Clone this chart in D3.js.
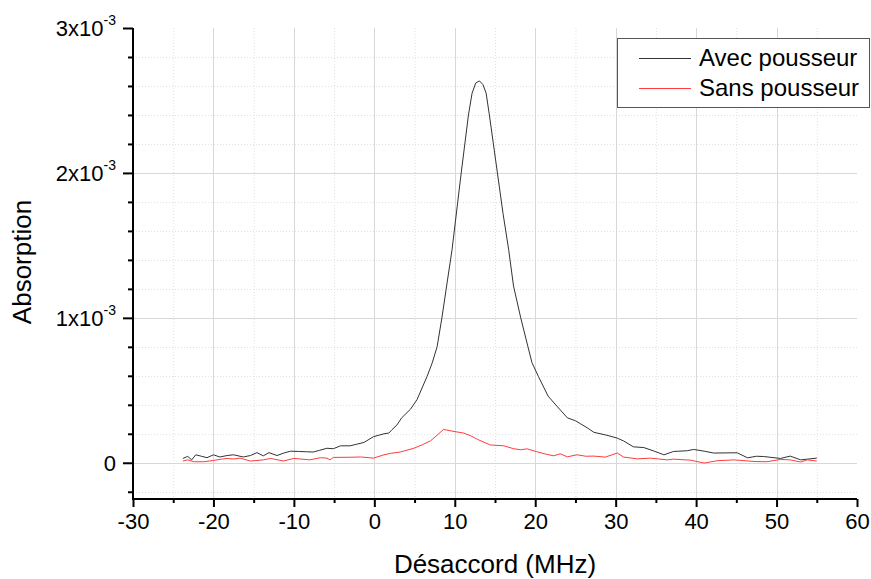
<!DOCTYPE html>
<html><head><meta charset="utf-8">
<script src="https://cdn.jsdelivr.net/npm/d3@7"></script>
<style>body{margin:0;background:#fff}text{font-family:"Liberation Sans",Arial,sans-serif}</style>
</head><body>
<svg id="c" width="871" height="579"></svg>
<script>
// Data (absorption in units of 1e-3)
const avecX = [-23.8,-23.2,-22.7,-22.2,-21.5,-20.8,-20.0,-19.2,-18.3,-17.5,-16.3,-15.4,-14.6,-13.8,-13.1,-12.1,-11.2,-10.4,-9.4,-8.4,-7.6,-6.8,-5.9,-5.1,-4.2,-3.0,-2.2,-1.3,-0.1,1.2,1.8,2.2,2.8,3.4,4.5,5.3,6.55,7.2,7.8,8.4,9.04,9.66,10.8,11.7,12.15,12.6,13.06,13.5,13.9,14.3,15.3,16.0,16.7,17.3,18.2,19.1,19.6,20.4,21.6,22.7,24.0,25.0,25.6,26.5,27.3,28.9,30.2,31.0,32.2,33.5,34.8,36.0,37.2,38.9,39.7,41.0,42.2,45.1,46.4,47.5,48.4,50.5,51.7,53.0,55.0];
const avecY = [0.030,0.044,0.020,0.055,0.045,0.035,0.055,0.040,0.050,0.055,0.040,0.050,0.070,0.048,0.070,0.050,0.068,0.080,0.078,0.076,0.074,0.086,0.100,0.097,0.117,0.117,0.128,0.140,0.180,0.200,0.205,0.228,0.26,0.310,0.370,0.435,0.595,0.69,0.80,1.00,1.24,1.47,2.00,2.40,2.55,2.62,2.635,2.61,2.55,2.40,2.00,1.72,1.47,1.22,1.00,0.80,0.69,0.595,0.46,0.39,0.31,0.29,0.27,0.24,0.21,0.19,0.17,0.15,0.11,0.105,0.08,0.055,0.078,0.083,0.092,0.08,0.067,0.069,0.034,0.045,0.043,0.030,0.046,0.020,0.032];
const sansX = [-23.8,-23.2,-22.4,-21.2,-20.0,-19.0,-18.3,-17.5,-16.7,-15.4,-13.8,-12.9,-11.3,-10.0,-8.0,-6.7,-5.9,-5.5,-5.1,-3.0,-1.7,-0.1,1.2,2.0,3.2,4.9,6.0,7.0,7.8,8.6,9.9,11.1,12.0,12.8,14.4,16.1,17.3,18.2,19.0,20.2,21.3,22.3,23.1,24.0,25.2,26.3,27.3,28.7,30.2,31.0,32.7,34.3,36.4,37.2,39.3,41.0,42.6,44.7,47.2,48.8,50.5,51.7,53.0,53.8,55.0];
const sansY = [0.012,0.020,0.007,0.007,0.016,0.025,0.030,0.026,0.032,0.012,0.020,0.030,0.012,0.030,0.020,0.035,0.032,0.020,0.037,0.038,0.040,0.032,0.055,0.065,0.074,0.100,0.125,0.152,0.19,0.230,0.216,0.205,0.186,0.162,0.123,0.117,0.097,0.090,0.096,0.076,0.060,0.048,0.062,0.041,0.055,0.045,0.046,0.039,0.067,0.039,0.027,0.032,0.020,0.025,0.018,-0.002,0.014,0.020,0.009,0.007,0.023,0.020,0.005,0.020,0.012];
const seriesNames = ["Avec pousseur","Sans pousseur"];
const xTicks = [-30,-20,-10,0,10,20,30,40,50,60];
const yTicks = [0,1e-3,2e-3,3e-3];
const yTickLabels = [["0",""],["1x10","-3"],["2x10","-3"],["3x10","-3"]];
const xTitle = "Désaccord (MHz)";
const yTitle = "Absorption";

const svg = d3.select("#c");
const L=133, R=857, T=28, B=499;
const x = d3.scaleLinear().domain([-30,60]).range([L,R]);
const y = d3.scaleLinear().domain([-0.25e-3,3e-3]).range([B,T]);

// grid
const xMinor = d3.range(-25,60,5).filter(v=>v%10!==0);
const yMinor = d3.range(-0.2e-3,3e-3,0.2e-3).map(v=>+v.toFixed(6)).filter(v=>Math.abs(v%1e-3)>1e-6 && Math.abs(v%1e-3-1e-3)>1e-6);
const g = svg.append("g");
g.selectAll(".xm").data(xMinor).join("line").attr("x1",d=>x(d)+0.5).attr("x2",d=>x(d)+0.5).attr("y1",T).attr("y2",B)
 .attr("stroke","#e0e0e0").attr("stroke-dasharray","1,2");
g.selectAll(".ym").data(yMinor).join("line").attr("y1",d=>Math.round(y(d))+0.5).attr("y2",d=>Math.round(y(d))+0.5).attr("x1",L).attr("x2",R)
 .attr("stroke","#e0e0e0").attr("stroke-dasharray","1,2");
g.selectAll(".xM").data(xTicks.slice(1,-1)).join("line").attr("x1",d=>Math.round(x(d))+0.5).attr("x2",d=>Math.round(x(d))+0.5).attr("y1",T).attr("y2",B)
 .attr("stroke","#d8d8d8");
g.selectAll(".yM").data(yTicks.slice(0,-1)).join("line").attr("y1",d=>Math.round(y(d))+0.5).attr("y2",d=>Math.round(y(d))+0.5).attr("x1",L).attr("x2",R)
 .attr("stroke","#d8d8d8");

// lines
const line = d3.line().x(d=>x(d[0])).y(d=>y(d[1]*1e-3));
svg.append("path").datum(avecX.map((v,i)=>[v,avecY[i]])).attr("d",line).attr("fill","none").attr("stroke","#333").attr("stroke-width",1);
svg.append("path").datum(sansX.map((v,i)=>[v,sansY[i]])).attr("d",line).attr("fill","none").attr("stroke","#ff3b3b").attr("stroke-width",1);

// axes
const xAxis = d3.axisBottom(x).tickValues(xTicks).tickSize(8).tickFormat(d3.format("d"));
const xa = svg.append("g").attr("transform",`translate(0,${B})`).call(xAxis);
xa.select(".domain").attr("stroke","#000").attr("stroke-width",2).attr("d",`M${L-1},0H${R}`);
xa.selectAll(".tick line").attr("stroke-width",2);
xa.selectAll(".tick text").attr("font-size",22).attr("fill","#000").attr("dy","0.71em").attr("y",14).text(d=>d<0?"-"+Math.abs(d):d);
const xmin = svg.append("g").attr("transform",`translate(0,${B})`).call(d3.axisBottom(x).tickValues(xMinor).tickSize(4).tickFormat(""));
xmin.select(".domain").remove(); xmin.selectAll(".tick line").attr("stroke-width",2);

const ya = svg.append("g").attr("transform",`translate(${L},0)`).call(d3.axisLeft(y).tickValues(yTicks).tickSize(10).tickFormat(""));
ya.select(".domain").attr("stroke","#000").attr("stroke-width",2).attr("d",`M0,${T}V${B+1}`);
ya.selectAll(".tick line").attr("stroke-width",2);
const ymin = svg.append("g").attr("transform",`translate(${L},0)`).call(d3.axisLeft(y).tickValues(yMinor).tickSize(5).tickFormat(""));
ymin.select(".domain").remove(); ymin.selectAll(".tick line").attr("stroke-width",2);
const yl = svg.append("g").selectAll("text").data(yTicks).join("text")
 .attr("x",116).attr("y",d=>y(d)+8).attr("text-anchor","end").attr("font-size",22).attr("fill","#000");
yl.each(function(d,i){
  const t=d3.select(this);
  t.append("tspan").text(yTickLabels[i][0]);
  if(yTickLabels[i][1]) t.append("tspan").attr("font-size",14).attr("dy",-11).text(yTickLabels[i][1]);
});

// titles
svg.append("text").attr("x",495).attr("y",573).attr("text-anchor","middle").attr("font-size",26).text(xTitle);
svg.append("text").attr("transform","translate(31,262) rotate(-90)").attr("text-anchor","middle").attr("font-size",26).text(yTitle);

// legend
const lg = svg.append("g");
lg.append("rect").attr("x",617.5).attr("y",38.5).attr("width",252).attr("height",69).attr("fill","#fff").attr("stroke","#555");
const colors=["#333","#ff3b3b"];
seriesNames.forEach((n,i)=>{
  const cy = 58 + i*30;
  lg.append("line").attr("x1",639).attr("x2",691).attr("y1",cy+0.5).attr("y2",cy+0.5).attr("stroke",colors[i]);
  lg.append("text").attr("x",699).attr("y",cy+8).attr("font-size",24).text(n);
});
</script>
</body></html>
